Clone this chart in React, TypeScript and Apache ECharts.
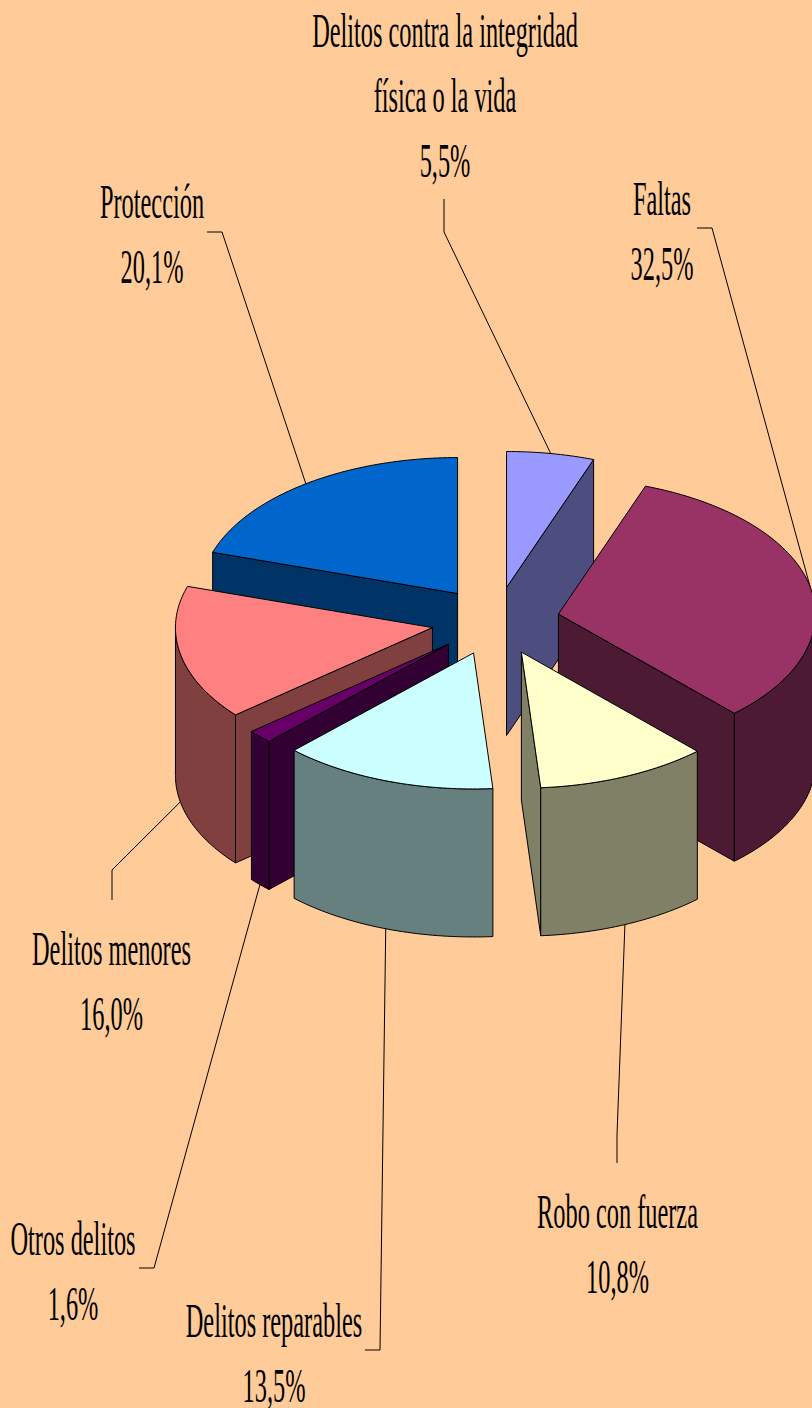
import React, { useEffect, useRef } from "react";
import * as echarts from "echarts";

// ---- data ----
const categories = [
  "Delitos contra la integridad\nfísica o la vida",
  "Faltas",
  "Robo con fuerza",
  "Delitos reparables",
  "Otros delitos",
  "Delitos menores",
  "Protección",
];
const shares = [5.5, 32.5, 10.8, 13.5, 1.6, 16.0, 20.1];
const percentLabels = ["5,5%", "32,5%", "10,8%", "13,5%", "1,6%", "16,0%", "20,1%"];

// ---- styling ----
const topColors = ["#9999FF", "#993366", "#FFFFCC", "#CCFFFF", "#660066", "#FF8080", "#0066CC"];
const sideColors = ["#4D4D80", "#4D1A33", "#808066", "#668080", "#330033", "#804040", "#003366"];
const BG = "#FFCC99";

// ---- 3D pie projection ----
const PIE = { cx: 495.5, cy: 621, rx: 257, ry: 136, depth: 148, explode: 0.25 };
const FONT = { family: "Liberation Serif", size: 49, scaleX: 0.497, lineGap: 65, lineHeight: 40 };

// label centres (first text line) and the elbow of each leader line
const labelAnchors: [number, number][] = [
  [445, 30.5], [662, 198.5], [617.5, 1211.5], [274, 1320.5], [73, 1238.5], [111.5, 948.5], [152, 201.5],
];
const leaderElbows: [number, number][][] = [
  [[444, 232], [444, 199]],
  [[712, 228], [697, 228]],
  [[617, 1135], [617, 1163]],
  [[380, 1350], [365, 1350]],
  [[154, 1268], [139, 1268]],
  [[112, 870], [112, 900]],
  [[222, 232], [207, 232]],
];

const total = shares.reduce((a, b) => a + b, 0);
const toRad = (share: number) => (share / total) * Math.PI * 2;

type Slice = { index: number; start: number; end: number; mid: number; ax: number; ay: number };
const slices: Slice[] = [];
{
  let acc = 0;
  shares.forEach((v, index) => {
    const start = acc;
    const end = acc + toRad(v);
    const mid = (start + end) / 2;
    slices.push({
      index,
      start,
      end,
      mid,
      ax: PIE.cx + PIE.explode * PIE.rx * Math.sin(mid),
      ay: PIE.cy - PIE.explode * PIE.ry * Math.cos(mid),
    });
    acc = end;
  });
}
// painter's order: back to front
const paintOrder = [...slices].sort((a, b) => a.ay - b.ay).map((s) => s.index);

const rim = (s: Slice, t: number, dz = 0): [number, number] => [
  s.ax + PIE.rx * Math.sin(t),
  s.ay - PIE.ry * Math.cos(t) + dz,
];
const arc = (s: Slice, a: number, b: number, dz = 0) => {
  const n = Math.max(2, Math.ceil(Math.abs(b - a) / 0.02));
  const pts: [number, number][] = [];
  for (let i = 0; i <= n; i++) pts.push(rim(s, a + ((b - a) * i) / n, dz));
  return pts;
};

function renderSlice(_: any, api: any) {
  const s = slices[api.value(0)];
  const side = sideColors[s.index];
  const top = topColors[s.index];
  const stroke = { stroke: "#000", lineWidth: 1, lineJoin: "round" };
  const children: any[] = [];
  const wall = (t: number) => {
    const r = rim(s, t);
    children.push({
      type: "polygon",
      shape: { points: [[s.ax, s.ay], r, [r[0], r[1] + PIE.depth], [s.ax, s.ay + PIE.depth]] },
      style: { fill: side, ...stroke },
    });
  };
  if (Math.sin(s.start) < -1e-6) wall(s.start);
  if (Math.sin(s.end) > 1e-6) wall(s.end);
  const a = Math.max(s.start, Math.PI / 2);
  const b = Math.min(s.end, (Math.PI * 3) / 2);
  if (b > a) {
    children.push({
      type: "polygon",
      shape: { points: [...arc(s, a, b), ...arc(s, b, a, PIE.depth)] },
      style: { fill: side, ...stroke },
    });
  }
  children.push({
    type: "polygon",
    shape: { points: [[s.ax, s.ay], ...arc(s, s.start, s.end)] },
    style: { fill: top, ...stroke },
  });
  return { type: "group", children };
}

function renderLabel(_: any, api: any) {
  const s = slices[api.value(0)];
  const i = s.index;
  const anchor = rim(s, s.mid, Math.cos(s.mid) < -0.1 ? PIE.depth : 0);
  const [x, y] = labelAnchors[i];
  const lines = [...categories[i].split("\n"), percentLabels[i]];
  const children: any[] = [
    {
      type: "polyline",
      shape: { points: [anchor, ...leaderElbows[i]] },
      style: { fill: "none", stroke: "#000", lineWidth: 1 },
    },
  ];
  lines.forEach((t, k) => {
    children.push({
      type: "text",
      x,
      y: y + k * FONT.lineGap,
      scaleX: FONT.scaleX,
      style: {
        text: t,
        fill: "#000",
        font: `${FONT.size}px "${FONT.family}"`,
        lineHeight: FONT.lineHeight,
        align: "center",
        verticalAlign: "middle",
      },
    });
  });
  return { type: "group", children };
}

export default function App() {
  const ref = useRef<HTMLDivElement>(null);
  useEffect(() => {
    document.body.style.margin = "0";
    document.documentElement.style.overflow = "hidden";
    const chart = echarts.init(ref.current!, null, { renderer: "svg" });
    chart.setOption({
      animation: false,
      backgroundColor: BG,
      tooltip: { show: false },
      series: [
        {
          type: "custom",
          coordinateSystem: "none",
          silent: true,
          clip: false,
          renderItem: renderSlice,
          data: paintOrder.map((i) => ({ name: categories[i], value: [i, shares[i]] })),
        },
        {
          type: "custom",
          coordinateSystem: "none",
          silent: true,
          renderItem: renderLabel,
          data: slices.map((s) => ({ name: categories[s.index], value: [s.index, shares[s.index]] })),
        },
      ],
    });
    return () => chart.dispose();
  }, []);
  return <div ref={ref} style={{ width: 812, height: 1408, overflow: "hidden" }} />;
}
